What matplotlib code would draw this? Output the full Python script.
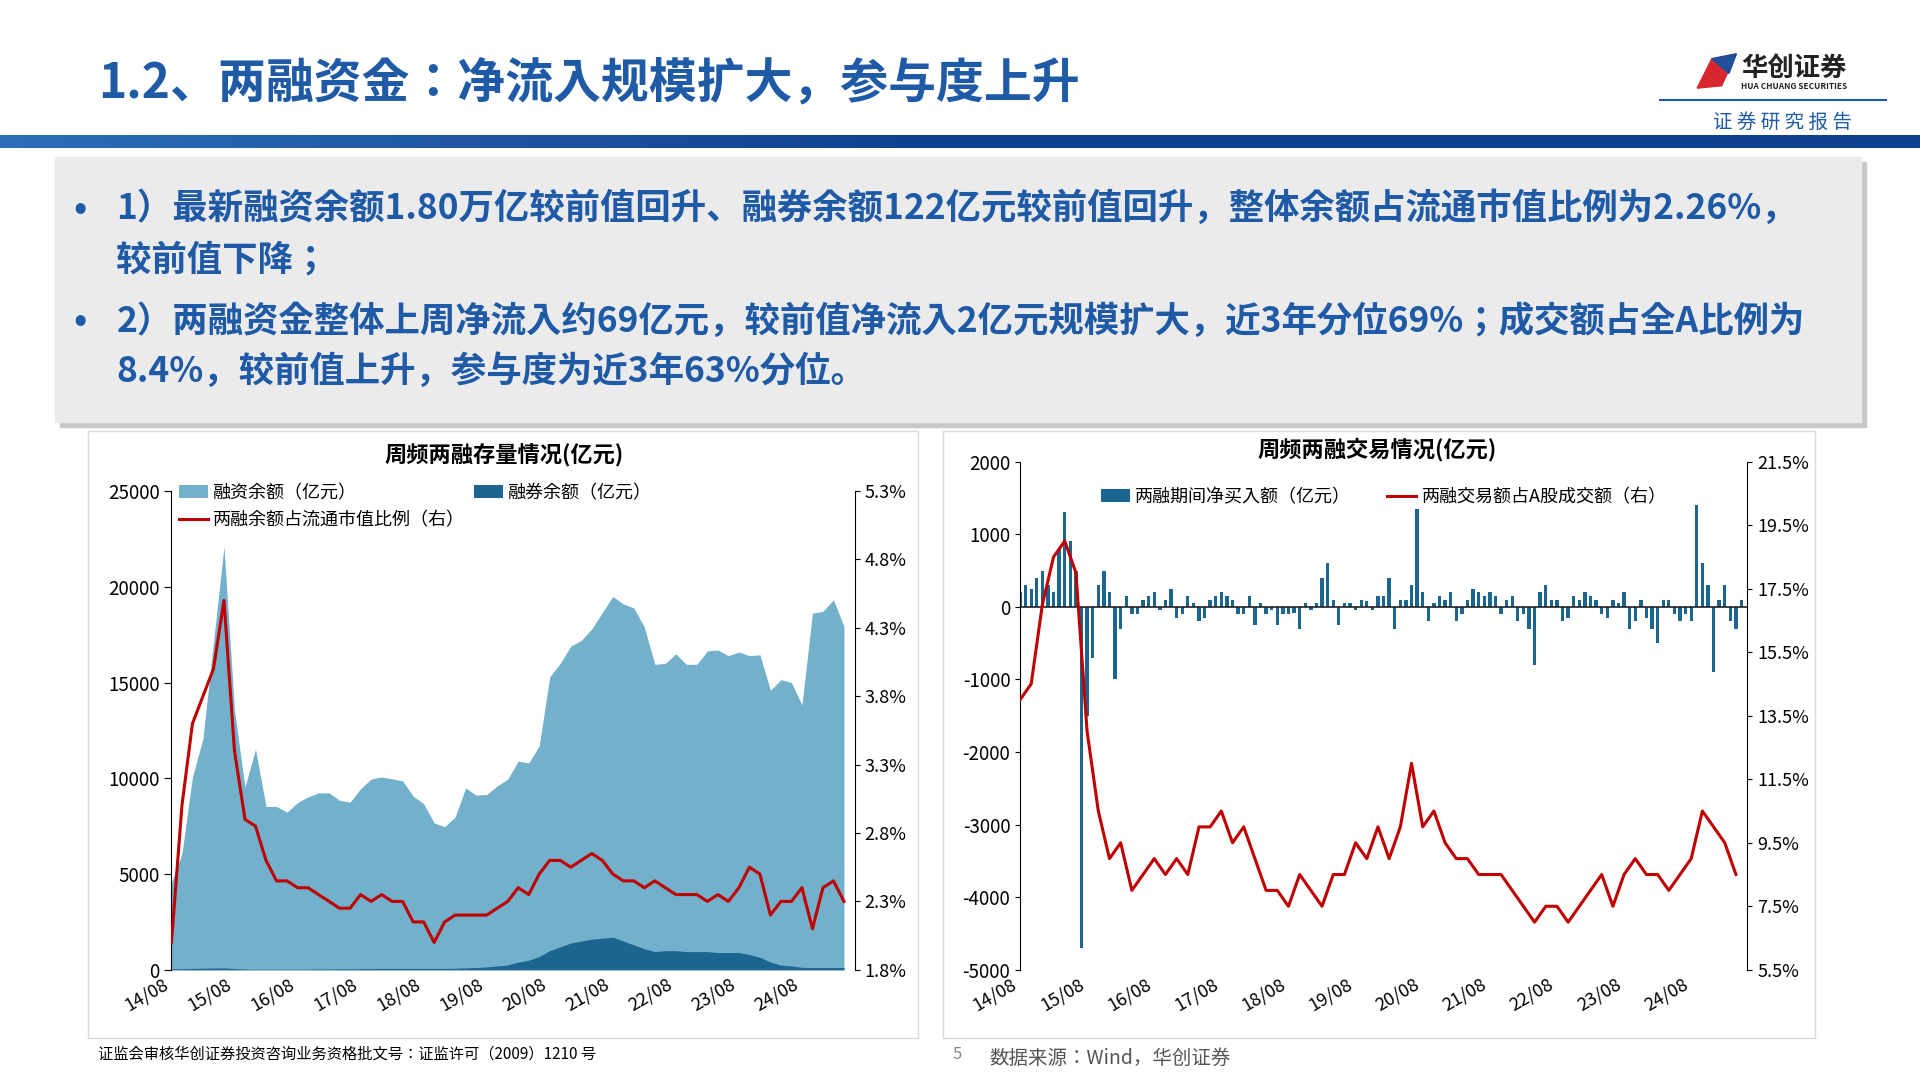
import numpy as np
import matplotlib
matplotlib.use("Agg")
import matplotlib.pyplot as plt
from matplotlib import font_manager as fm
from matplotlib.patches import Rectangle, Polygon
from matplotlib.colors import LinearSegmentedColormap

cjk = [f.name for f in fm.fontManager.ttflist if 'CJK' in f.name]
pref = [n for n in cjk if 'SC' in n] or cjk
plt.rcParams['font.family'] = (pref[:1] if pref else []) + ['DejaVu Sans']
plt.rcParams['axes.unicode_minus'] = False

# ---------------- data ----------------
# bi-monthly points starting 2014-08
fin_balance = [4500, 6000, 10000, 12000, 17000, 22000, 13500, 9500, 11500, 8500, 8500, 8200, 8700, 9000, 9200,
               9200, 8800, 8700, 9400, 9900, 10000, 9900, 9800, 9000, 8600, 7600, 7400, 7900, 9400, 9000, 9000,
               9400, 9700, 10500, 10300, 11000, 14300, 14800, 15500, 15700, 16200, 17000, 17800, 17600, 17600,
               16800, 15000, 15000, 15500, 15000, 15000, 15700, 15800, 15500, 15700, 15600, 15800, 14200, 14900,
               14800, 13700, 18500, 18600, 19200, 17800]
sec_balance = [50, 60, 70, 80, 90, 100, 60, 40, 30, 30, 30, 30, 30, 30, 40,
               40, 50, 50, 60, 60, 70, 70, 70, 70, 70, 70, 70, 80, 100, 120, 150,
               200, 250, 400, 500, 700, 1000, 1200, 1400, 1500, 1600, 1650, 1700, 1500, 1300,
               1100, 950, 1000, 1000, 950, 950, 950, 900, 900, 900, 800, 650, 400, 250,
               200, 130, 120, 120, 120, 120]
ratio_mkt = [2.0, 3.0, 3.6, 3.8, 4.0, 4.5, 3.4, 2.9, 2.85, 2.6, 2.45, 2.45, 2.4, 2.4, 2.35,
             2.3, 2.25, 2.25, 2.35, 2.3, 2.35, 2.3, 2.3, 2.15, 2.15, 2.0, 2.15, 2.2, 2.2, 2.2, 2.2,
             2.25, 2.3, 2.4, 2.35, 2.5, 2.6, 2.6, 2.55, 2.6, 2.65, 2.6, 2.5, 2.45, 2.45,
             2.4, 2.45, 2.4, 2.35, 2.35, 2.35, 2.3, 2.35, 2.3, 2.4, 2.55, 2.5, 2.2, 2.3,
             2.3, 2.4, 2.1, 2.4, 2.45, 2.3]
ratio_vol = [14.0, 14.5, 17.0, 18.5, 19.0, 18.0, 13.0, 10.5, 9.0, 9.5, 8.0, 8.5, 9.0, 8.5, 9.0,
             8.5, 10.0, 10.0, 10.5, 9.5, 10.0, 9.0, 8.0, 8.0, 7.5, 8.5, 8.0, 7.5, 8.5, 8.5, 9.5,
             9.0, 10.0, 9.0, 10.0, 12.0, 10.0, 10.5, 9.5, 9.0, 9.0, 8.5, 8.5, 8.5, 8.0,
             7.5, 7.0, 7.5, 7.5, 7.0, 7.5, 8.0, 8.5, 7.5, 8.5, 9.0, 8.5, 8.5, 8.0,
             8.5, 9.0, 10.5, 10.0, 9.5, 8.5]
# monthly net buy from 2014-08
net_buy = [200, 300, 250, 400, 500,
           300, 200, 800, 1300, 900, 500, -4700, -1500, -700, 300, 500, 200,
           -1000, -300, 150, -100, -100, 100, 150, 200, -50, 100, 250, -150,
           -100, 150, 50, -200, -150, 100, 150, 200, 150, 100, -100, -100,
           150, -250, 50, -100, -50, -250, -100, -100, -80, -300, 50, -50,
           50, 400, 600, 100, -250, 50, 50, -50, 100, 80, -50, 150,
           150, 400, -300, 100, 100, 300, 1350, 200, -200, 50, 150, 100,
           200, -200, -100, 100, 250, 200, 150, 200, 150, -100, 100, 150,
           -200, -100, -300, -800, 200, 300, 100, 100, -200, -150, 150, 100,
           200, 150, 100, -100, -150, 100, 50, 200, -300, -200, 100, -150,
           -300, -500, 100, 100, -100, -200, -100, -200, 1400, 600, 300, -900,
           100, 300, -200, -300, 100]
tick_labels = ['14/08', '15/08', '16/08', '17/08', '18/08', '19/08', '20/08', '21/08', '22/08', '23/08', '24/08']
tick_years = [2014 + 7 / 12 + i for i in range(len(tick_labels))]

t2 = 2014 + 7 / 12 + np.arange(len(fin_balance)) * 2 / 12
t1 = 2014 + 7 / 12 + np.arange(len(net_buy)) / 12

BLUE = '#1F5AA6'
LIGHT = '#72B0CB'
DARK = '#1B6690'
RED = '#C00000'

W, H = 1568, 882
fig = plt.figure(figsize=(19.2, 10.8), dpi=100)

def fx(x): return x / W
def fy(y): return 1 - y / H

# ---- header ----
fig.text(fx(80), fy(68), '1.2、两融资金：净流入规模扩大，参与度上升', color=BLUE, fontsize=34.5,
         fontweight='bold', va='center', ha='left')
band = fig.add_axes([0, fy(121), 1, (121 - 110) / H])
band.axis('off')
grad = np.linspace(0, 1, 256)[None, :]
cm = LinearSegmentedColormap.from_list('b', ['#2E6DB8', '#0F3F8F', '#0F3F8F'])
band.imshow(grad, aspect='auto', cmap=cm, extent=[0, 1, 0, 1])
# logo
fig.patches.append(Polygon([[fx(1386), fy(72)], [fx(1398), fy(48)], [fx(1418), fy(44)], [fx(1406), fy(70)]],
                           closed=True, transform=fig.transFigure, color='#D7262E'))
fig.patches.append(Polygon([[fx(1398), fy(48)], [fx(1418), fy(44)], [fx(1412), fy(60)]],
                           closed=True, transform=fig.transFigure, color='#1F4E9A'))
fig.text(fx(1422), fy(56), '华创证券', fontsize=19, fontweight='bold', color='#222222', va='center')
fig.text(fx(1422), fy(71), 'HUA CHUANG SECURITIES', fontsize=6, fontweight='bold', color='#222222', va='center')
fig.add_artist(plt.Line2D([fx(1356), fx(1540)], [fy(82), fy(82)], color=BLUE, lw=1.5))
fig.text(fx(1456), fy(100), '证 券 研 究 报 告', fontsize=14, color=BLUE, va='center', ha='center')

# ---- gray box ----
fig.patches.append(Rectangle((fx(49), fy(349)), (1524 - 49) / W, (349 - 132) / H, transform=fig.transFigure,
                             color='#C8C8C8', zorder=0))
fig.patches.append(Rectangle((fx(45), fy(345)), (1520 - 45) / W, (345 - 128) / H, transform=fig.transFigure,
                             color='#EBEBEB', zorder=1))
lines = [(60, 170, '•'), (95, 170, '1）最新融资余额1.80万亿较前值回升、融券余额122亿元较前值回升，整体余额占流通市值比例为2.26%，'),
         (95, 212, '较前值下降；'), (60, 262, '•'),
         (95, 262, '2）两融资金整体上周净流入约69亿元，较前值净流入2亿元规模扩大，近3年分位69%；成交额占全A比例为'),
         (95, 303, '8.4%，较前值上升，参与度为近3年63%分位。')]
for x, y, s in lines:
    fig.text(fx(x), fy(y), s, color=BLUE, fontsize=25.5, fontweight='bold', va='center', ha='left', zorder=3)

# panel frames
for x0, x1 in [(72, 750), (770, 1482)]:
    fig.patches.append(Rectangle((fx(x0), fy(848)), (x1 - x0) / W, (848 - 352) / H, transform=fig.transFigure,
                                 fill=False, ec='#D9D9D9', lw=1))

def style_time_axis(ax):
    ax.set_xlim(2014 + 7 / 12, 2025.42)
    ax.set_xticks(tick_years)
    ax.set_xticklabels(tick_labels, rotation=30, ha='right', fontsize=13)
    ax.tick_params(axis='x', length=0, pad=4)

# ---- left chart ----
axL = fig.add_axes([fx(140), fy(792), (698 - 140) / W, (792 - 401) / H])
total = np.array(fin_balance) + np.array(sec_balance)
axL.fill_between(t2, 0, total, color=LIGHT, lw=0, label='融资余额（亿元）')
axL.fill_between(t2, 0, sec_balance, color=DARK, lw=0, label='融券余额（亿元）')
axL.set_ylim(0, 25000)
axL.set_yticks(range(0, 25001, 5000))
axL.tick_params(axis='y', labelsize=13.5, direction='out', length=5)
for s in ['top', 'right', 'bottom']:
    axL.spines[s].set_visible(False)
style_time_axis(axL)
axL2 = axL.twinx()
axL2.plot(t2, ratio_mkt, color=RED, lw=2.2, label='两融余额占流通市值比例（右）')
axL2.set_ylim(1.8, 5.3)
axL2.set_yticks(np.arange(1.8, 5.31, 0.5))
axL2.set_yticklabels([f'{v:.1f}%' for v in np.arange(1.8, 5.31, 0.5)], fontsize=13)
for s in ['top', 'left', 'bottom']:
    axL2.spines[s].set_visible(False)
fig.text(fx(412), fy(372), '周频两融存量情况(亿元)', fontsize=16, fontweight='bold', ha='center', va='center')
h1, l1 = axL.get_legend_handles_labels()
h2, l2 = axL2.get_legend_handles_labels()
axL.legend([h1[0], h2[0], h1[1]], [l1[0], l2[0], l1[1]], ncol=2, loc='upper left', bbox_to_anchor=(0.0, 1.03),
           frameon=False, fontsize=13, columnspacing=0.5, handlelength=1.6, handletextpad=0.3, borderaxespad=0)

# ---- right chart ----
axR = fig.add_axes([fx(833), fy(792), (1427 - 833) / W, (792 - 377) / H])
axR.bar(t1, net_buy, width=1 / 12 * 0.6, color=DARK, label='两融期间净买入额（亿元）')
axR.axhline(0, color='#222222', lw=1.2)
axR.set_ylim(-5000, 2000)
axR.set_yticks(range(-5000, 2001, 1000))
axR.tick_params(axis='y', labelsize=13.5)
for s in ['top', 'right', 'bottom']:
    axR.spines[s].set_visible(False)
style_time_axis(axR)
axR2 = axR.twinx()
axR2.plot(t2, ratio_vol, color=RED, lw=2.2, label='两融交易额占A股成交额（右）')
axR2.set_ylim(5.5, 21.5)
axR2.set_yticks(np.arange(5.5, 21.6, 2))
axR2.set_yticklabels([f'{v:.1f}%' for v in np.arange(5.5, 21.6, 2)], fontsize=13)
for s in ['top', 'left', 'bottom']:
    axR2.spines[s].set_visible(False)
fig.text(fx(1125), fy(367), '周频两融交易情况(亿元)', fontsize=16, fontweight='bold', ha='center', va='center')
h1, l1 = axR.get_legend_handles_labels()
h2, l2 = axR2.get_legend_handles_labels()
axR.legend(h1 + h2, l1 + l2, ncol=2, loc='upper center', bbox_to_anchor=(0.5, 0.98), frameon=False,
           fontsize=13, columnspacing=2, handlelength=1.6, handletextpad=0.3)

# ---- footer ----
fig.text(fx(80), fy(861), '证监会审核华创证券投资咨询业务资格批文号：证监许可（2009）1210 号', fontsize=11, va='center')
fig.text(fx(778), fy(861), '5', fontsize=12, color='#888888', va='center')
fig.text(fx(808), fy(864), '数据来源：Wind，华创证券', fontsize=14, color='#555555', va='center')

fig.savefig('out.png', dpi=100)
